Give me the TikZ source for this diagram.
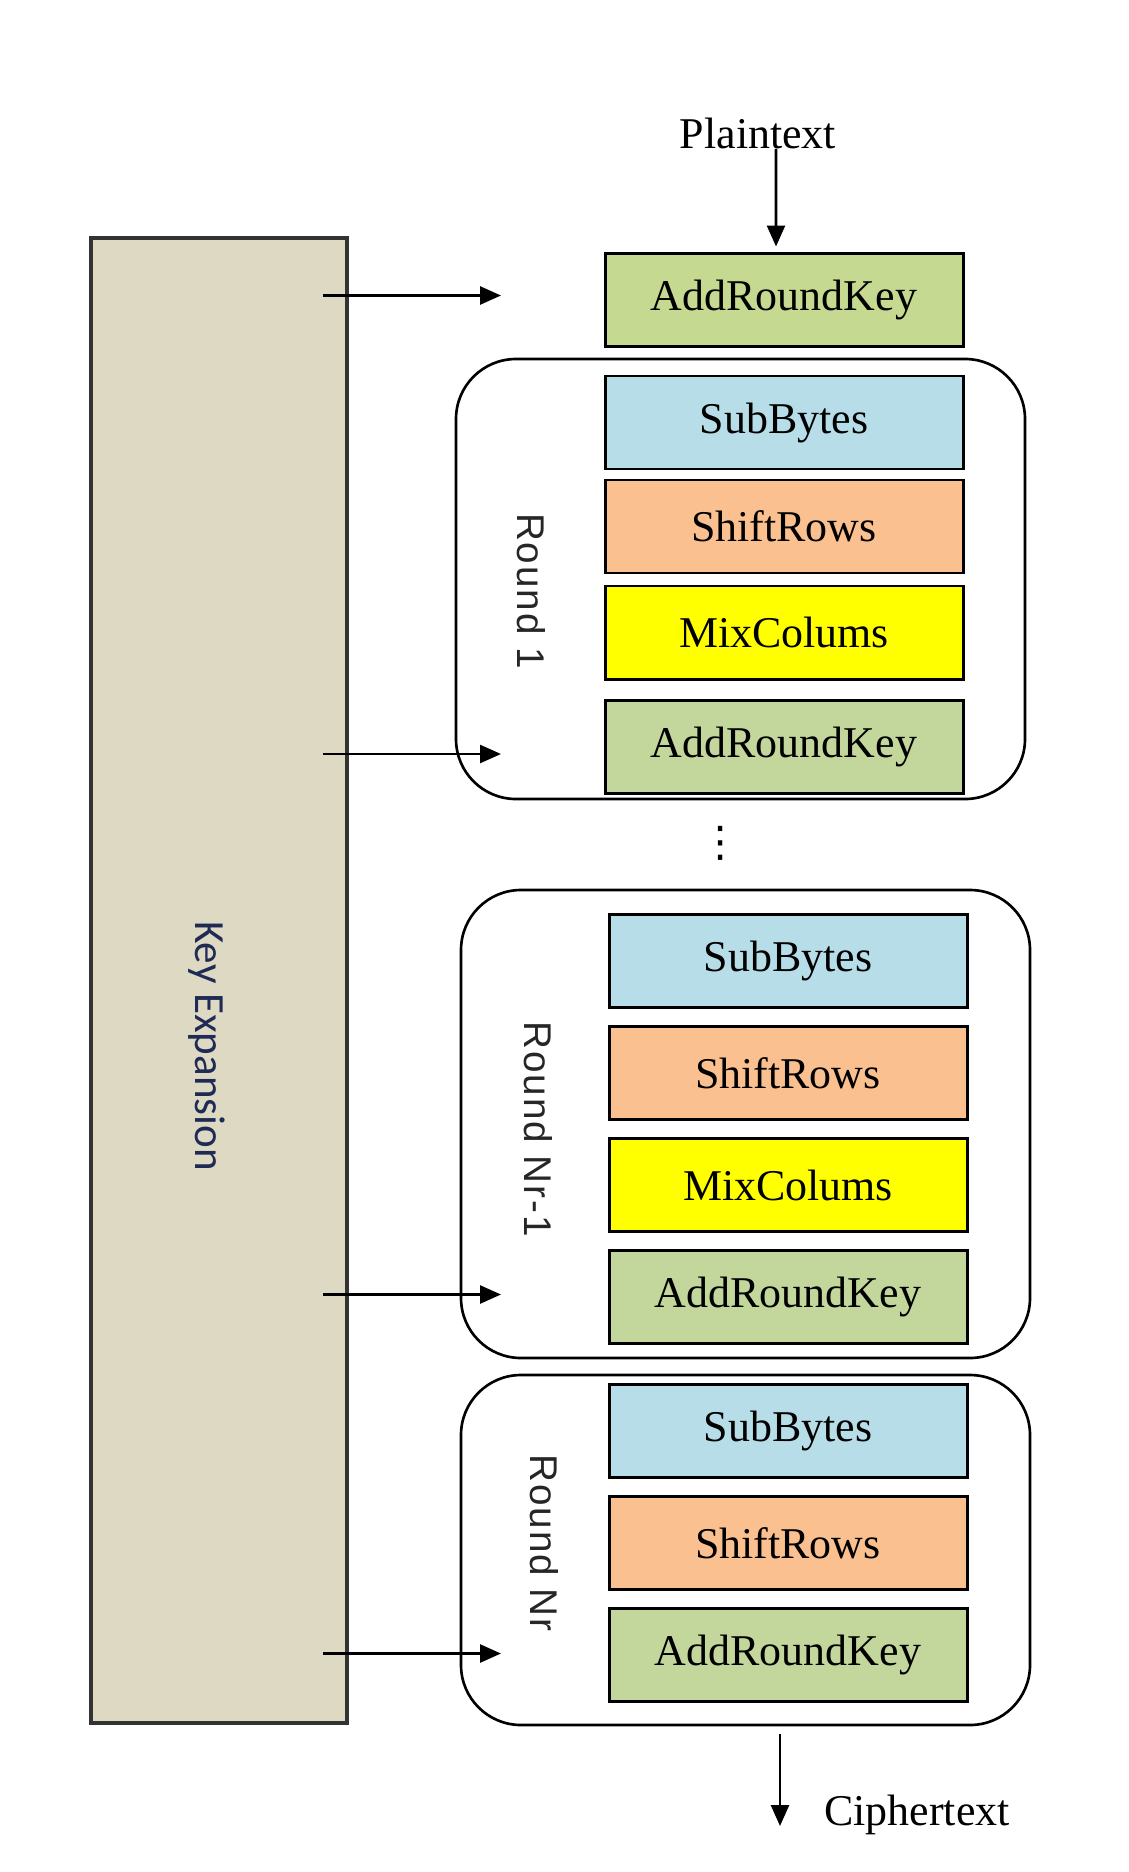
\documentclass[tikz,border=0pt]{standalone}
\usepackage{fontspec}
\setmainfont{Liberation Serif}
\newfontfamily\roundfont[LetterSpace=5]{Liberation Sans}
\newfontfamily\keyfont{Carlito}
\newfontfamily\dotfont{DejaVu Sans}
\usepackage{xcolor}
\usepackage{tikz}
\usetikzlibrary{arrows.meta,positioning}

\definecolor{keytan}{HTML}{DDD9C3}
\definecolor{keyink}{HTML}{1F2A55}
\definecolor{arktop}{RGB}{197,217,145}
\definecolor{arkgreen}{HTML}{C3D69B}
\definecolor{sbblue}{HTML}{B7DEE8}
\definecolor{srpeach}{HTML}{FAC090}
\definecolor{mcyellow}{HTML}{FFFF00}

\begin{document}
\begin{tikzpicture}[
    node distance=0.38cm,
    stage/.style={rectangle, draw, line width=1.7pt, outer sep=0pt, minimum width=7.16cm, minimum height=1.86cm, inner sep=0pt, font=\fontsize{25}{30}\selectfont},
    roundbox/.style={rectangle, draw, line width=1.5pt, rounded corners=1.2cm, minimum width=11.38cm},
    roundlabel/.style={rotate=-90, inner sep=0pt, text=black!85, font=\roundfont\fontsize{22}{26}\selectfont},
    textlabel/.style={inner sep=0pt, font=\fontsize{25}{30}\selectfont},
    arrow/.style={line width=1.5pt,-{Triangle[length=0.42cm,width=0.36cm]}}
]
\useasboundingbox (0,0) rectangle (22.56,-37.44);

% Key schedule
\node[rectangle, draw=black!80, line width=1.8pt, fill=keytan, minimum width=5.12cm, minimum height=29.7cm] (keyexp) at (4.38,-19.61) {};
\node[rotate=-90, inner sep=0pt, text=keyink, font=\keyfont\fontsize{24.5}{28}\selectfont] (keylbl) at (4.14,-20.92) {Key Expansion};

% Input
\node[textlabel] (plain) at (15.16,-2.66) {Plaintext};
\node[stage, fill=arktop] (ark0) at (15.68,-6.0) {AddRoundKey};

% Round 1
\node[roundbox, minimum height=8.8cm] (round1) at (14.81,-11.58) {};
\node[roundlabel] (lbl1) at (10.62,-11.82) {Round 1};
\node[stage, fill=sbblue] (sb1) at (15.68,-8.45) {SubBytes};
\node[stage, fill=srpeach, below=0.22cm of sb1] (sr1) {ShiftRows};
\node[stage, fill=mcyellow, below=0.26cm of sr1] (mc1) {MixColums};
\node[stage, fill=arkgreen, below=0.42cm of mc1] (ark1) {AddRoundKey};

\node[inner sep=0pt, font=\dotfont\fontsize{24}{28}\selectfont] (dots) at (14.42,-16.87) {⋮};

% Round Nr-1
\node[roundbox, minimum height=9.36cm] (round2) at (14.91,-22.48) {};
\node[roundlabel] (lbl2) at (10.76,-22.58) {Round Nr-1};
\node[stage, fill=sbblue] (sb2) at (15.76,-19.22) {SubBytes};
\node[stage, fill=srpeach, below=of sb2] (sr2) {ShiftRows};
\node[stage, fill=mcyellow, below=of sr2] (mc2) {MixColums};
\node[stage, fill=arkgreen, below=of mc2] (ark2) {AddRoundKey};

% Round Nr
\node[roundbox, minimum height=7.0cm] (round3) at (14.91,-31.0) {};
\node[roundlabel] (lbl3) at (10.88,-30.86) {Round Nr};
\node[stage, fill=sbblue] (sb3) at (15.76,-28.62) {SubBytes};
\node[stage, fill=srpeach, below=of sb3] (sr3) {ShiftRows};
\node[stage, fill=arkgreen, below=of sr3] (ark3) {AddRoundKey};

% Output
\node[textlabel] (cipher) at (18.34,-36.3) {Ciphertext};
\coordinate (cout) at (15.6,-36.52);

% Round keys
\coordinate (k0a) at (6.46,-5.91);  \coordinate (k0b) at (10.02,-5.91);
\coordinate (k1a) at (6.46,-15.08); \coordinate (k1b) at (10.02,-15.08);
\coordinate (k2a) at (6.46,-25.89); \coordinate (k2b) at (10.02,-25.89);
\coordinate (k3a) at (6.46,-33.07); \coordinate (k3b) at (10.02,-33.07);

% Arrows
\draw[arrow] ([xshift=0.36cm]plain.south) -- ([xshift=-0.16cm,yshift=0.14cm]ark0.north);
\draw[arrow] (k0a) -- (k0b);
\draw[arrow] (k1a) -- (k1b);
\draw[arrow] (k2a) -- (k2b);
\draw[arrow] (k3a) -- (k3b);
\draw[arrow] ([xshift=0.69cm,yshift=-0.16cm]round3.south) -- (cout);

\end{tikzpicture}
\end{document}
